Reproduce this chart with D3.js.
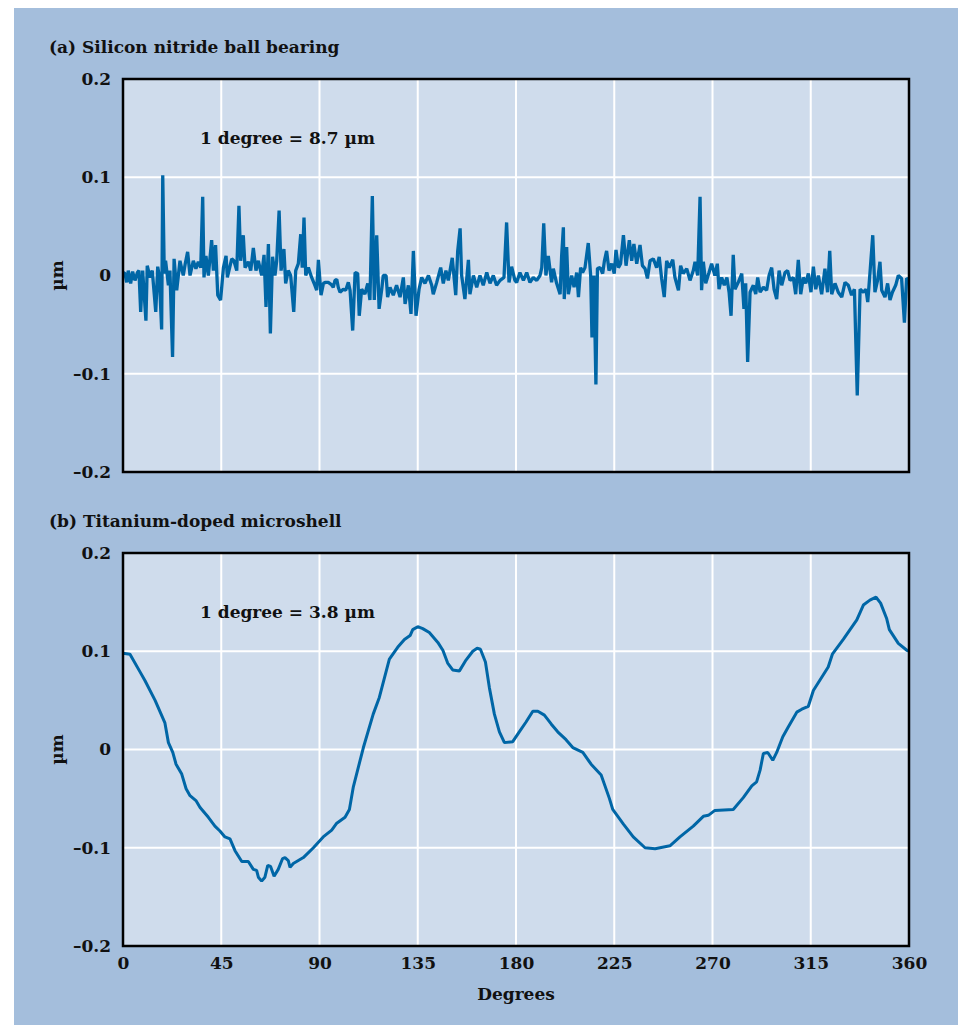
<!DOCTYPE html>
<html>
<head>
<meta charset="utf-8">
<title>Roundness traces</title>
<script src="https://cdn.jsdelivr.net/npm/d3@7"></script>
<style>
  body { margin: 0; background: #ffffff; }
  text { font-family: "DejaVu Serif", serif; font-weight: bold; fill: #111; }
</style>
</head>
<body>
<div id="chart"></div>
<script>
// tick values
var xTicks = [0, 45, 90, 135, 180, 225, 270, 315, 360];
var yTicks = [-0.2, -0.1, 0, 0.1, 0.2];

// (a) silicon nitride ball bearing
var aDeg = [0, 0.9, 1.7, 2.4, 3.5, 4.4, 5.5, 6.6, 7.3, 8.1, 9.0, 10.5, 11.1, 12.4, 13.4, 15.0, 15.9, 16.6, 17.7, 18.2,
  18.9, 19.5, 20.8, 21.5, 22.7, 23.4, 24.6, 26.1, 27.6, 28.5, 29.6, 30.7, 32.2, 33.4, 34.5, 35.6, 36.5, 37.1, 38.0, 39.1,
  40.6, 41.4, 42.4, 43.4, 44.7, 46.0, 47.2, 47.8, 49.8, 50.8, 52.1, 53.1, 53.9, 55.1, 55.9, 57.4, 58.5, 59.7, 60.9, 62.0,
  63.5, 64.6, 65.5, 66.6, 67.5, 68.5, 69.6, 70.4, 71.5, 72.4, 73.7, 74.5, 75.7, 76.8, 78.2, 79.1, 80.3, 81.4, 82.1, 82.9,
  83.7, 84.9, 86.4, 87.9, 88.7, 89.5, 90.7, 91.8, 92.8, 94.0, 95.3, 96.3, 97.1, 97.9, 98.6, 99.4, 100.9, 102.0, 103.2, 104.0,
  105.2, 106.3, 107.5, 108.2, 109.3, 110.8, 112.1, 113.1, 114.2, 115.1, 116.2, 117.3, 118.5, 119.2, 120.5, 121.2, 122.3, 123.8, 125.3, 126.9,
  128.4, 129.2, 130.7, 131.9, 133.0, 134.2, 135.6, 136.8, 138.3, 139.9, 141.4, 142.1, 143.7, 145.5, 146.7, 147.9, 149.0, 150.8, 152.4, 153.3,
  154.4, 155.1, 156.6, 158.2, 158.9, 160.5, 162.0, 163.5, 165.0, 166.6, 168.1, 169.6, 171.1, 172.7, 174.5, 175.7, 176.8, 178.0, 179.5, 180.3,
  181.8, 183.4, 184.9, 186.4, 187.9, 189.5, 191.0, 191.8, 192.7, 193.7, 194.8, 196.3, 197.1, 198.6, 200.2, 200.9, 201.7, 202.1, 203.2, 204.0,
  205.5, 206.6, 207.8, 208.6, 209.6, 210.5, 211.6, 213.1, 214.2, 214.8, 215.7, 216.6, 217.3, 218.5, 219.7, 220.5, 221.5, 222.6, 223.8, 225.0,
  225.8, 226.9, 227.9, 229.2, 230.4, 231.9, 233.0, 234.0, 235.3, 236.8, 237.9, 239.1, 240.2, 241.4, 242.9, 244.4, 245.6, 246.7, 247.9, 249.0,
  250.2, 251.8, 252.8, 254.4, 255.4, 256.6, 258.2, 259.7, 261.2, 262.0, 263.2, 264.3, 265.0, 265.8, 266.9, 268.4, 269.6, 271.1, 272.2, 273.0,
  274.2, 275.4, 276.6, 277.6, 278.5, 279.5, 280.3, 281.8, 283.4, 284.4, 285.2, 286.1, 287.2, 288.7, 289.8, 290.7, 291.8, 293.3, 294.8, 295.9,
  297.1, 298.2, 299.4, 300.5, 301.7, 303.2, 304.4, 305.5, 307.0, 308.1, 309.3, 310.4, 311.6, 312.7, 313.9, 315.1, 316.2, 317.3, 318.5, 320.0,
  321.5, 322.7, 323.7, 324.6, 326.1, 327.6, 329.2, 330.7, 332.2, 333.7, 335.0, 336.3, 337.6, 339.1, 340.3, 341.1, 342.1, 343.4, 344.4, 345.6,
  346.7, 347.5, 349.0, 350.2, 351.3, 352.4, 353.9, 355.1, 356.6, 357.9, 358.9, 360];
var aVal = [0.003, 0.002, -0.007, 0.005, -0.008, 0.004, -0.005, 0.003, 0.005, -0.037, 0.005, -0.046, 0.010, -0.002, 0.005, -0.037, 0.009, 0, -0.055, 0.102,
  0.002, 0.015, -0.010, 0.005, -0.083, 0.017, -0.015, 0.015, 0, 0.012, 0.024, 0, 0.015, 0.007, 0.014, 0.008, 0.080, -0.002, 0.020, 0,
  0.036, 0.005, 0.031, -0.020, -0.025, 0.008, 0.020, -0.002, 0.017, 0.015, 0.005, 0.071, 0.015, 0.041, 0.008, 0.014, 0.005, 0.028, 0.005, 0.015,
  0, 0.021, -0.032, 0.032, -0.059, 0.019, 0, 0.015, 0.066, 0.005, 0.027, -0.008, 0.005, 0, -0.037, 0.005, 0.012, 0.042, 0.008, 0.059,
  0, 0.008, -0.002, -0.010, -0.015, 0.016, -0.020, -0.008, -0.007, -0.007, -0.009, -0.012, -0.005, -0.004, -0.012, -0.017, -0.014, -0.015, -0.007, -0.015,
  -0.056, 0.003, 0.002, -0.041, -0.014, -0.019, -0.008, -0.025, 0.081, -0.025, 0.041, -0.034, -0.014, 0, 0, -0.022, -0.012, -0.020, -0.010, -0.022,
  -0.002, -0.029, -0.010, -0.039, 0.025, -0.041, -0.014, -0.002, -0.008, 0, -0.010, -0.019, -0.007, 0.008, -0.008, 0.005, -0.005, 0.018, -0.020, 0.025,
  0.048, 0, -0.024, 0.016, -0.019, 0, -0.012, 0, -0.010, 0.003, -0.008, 0, -0.010, -0.005, -0.002, 0.054, -0.007, 0.009, -0.005, -0.007,
  0.003, -0.005, 0.003, -0.007, -0.002, -0.005, 0, 0.008, 0.053, 0, 0.020, -0.007, 0.007, -0.008, -0.019, 0.020, 0.049, -0.024, 0.029, -0.019,
  0, -0.012, 0.003, -0.022, 0.008, 0.003, 0.008, 0.033, 0, -0.063, 0, -0.111, 0.007, 0.008, 0.002, 0.015, 0.025, 0.005, 0.012, 0.002,
  0.026, 0.008, 0.012, 0.041, 0.010, 0.036, 0.015, 0.032, 0.012, 0.031, 0.010, 0.007, -0.003, 0.015, 0.017, 0.008, 0.019, -0.003, -0.022, 0.015,
  0.008, 0.016, -0.002, -0.015, 0.010, 0.002, 0.007, -0.005, 0.005, 0.014, 0, 0.080, -0.015, 0.014, -0.008, 0.003, 0.012, 0, 0.012, -0.014,
  -0.002, -0.010, -0.002, -0.017, -0.041, 0.021, -0.014, -0.007, 0.002, -0.034, -0.008, -0.088, -0.017, -0.010, -0.019, -0.002, -0.017, -0.012, -0.015, 0,
  0.008, -0.014, -0.024, 0.005, -0.010, 0.003, 0.005, -0.005, -0.002, -0.019, 0.016, -0.019, -0.002, -0.008, 0.002, -0.017, 0.009, -0.014, 0, -0.019,
  0.007, -0.017, 0.025, -0.019, -0.008, -0.017, -0.022, -0.007, -0.010, -0.020, -0.014, -0.122, -0.014, -0.017, -0.014, -0.027, 0.002, 0.041, -0.017, -0.005,
  0.014, -0.015, -0.022, -0.008, -0.025, -0.017, -0.010, 0, -0.003, -0.048, -0.003, -0.004];

// (b) titanium-doped microshell
var bDeg = [0, 3.2, 7.8, 10.1, 14.7, 19.2, 20.8, 22.8, 24.3, 26.9, 28.9, 30.7, 33.4, 35.3, 39.1, 42.1, 44.4, 46.7, 49.0, 51.3,
  54.4, 57.4, 59.7, 61.2, 62.0, 63.5, 65.0, 66.3, 67.6, 69.2, 71.1, 73.1, 74.2, 75.7, 76.5, 78.0, 82.6, 87.2, 91.7, 95.6,
  97.9, 101.7, 103.7, 105.5, 110.1, 114.6, 117.4, 122.0, 125.8, 128.9, 131.5, 132.7, 135.0, 137.3, 140.3, 144.2, 146.5, 148.7, 151.0, 154.1,
  157.1, 160.2, 162.2, 163.7, 166.0, 167.8, 170.1, 172.4, 174.7, 178.5, 181.5, 184.6, 187.7, 190.0, 193.0, 196.1, 199.1, 202.9, 206.0, 210.6,
  214.4, 219.0, 222.8, 224.3, 229.2, 233.7, 239.1, 243.7, 250.5, 255.1, 261.2, 265.8, 268.1, 271.1, 279.5, 284.1, 288.0, 290.2, 291.8, 293.3,
  295.3, 297.6, 299.4, 302.2, 304.7, 308.6, 310.9, 313.9, 316.2, 323.0, 324.9, 329.9, 336.1, 339.1, 342.1, 344.9, 347.0, 349.8, 351.0, 355.1,
  359.0, 360];
var bVal = [0.098, 0.097, 0.079, 0.070, 0.050, 0.027, 0.007, -0.003, -0.015, -0.025, -0.040, -0.047, -0.052, -0.059, -0.069, -0.078, -0.083, -0.089, -0.091, -0.103,
  -0.114, -0.114, -0.122, -0.123, -0.130, -0.134, -0.130, -0.118, -0.119, -0.129, -0.122, -0.111, -0.110, -0.113, -0.120, -0.116, -0.110, -0.100, -0.089, -0.082,
  -0.075, -0.069, -0.061, -0.038, 0.002, 0.036, 0.053, 0.092, 0.104, 0.112, 0.116, 0.122, 0.125, 0.123, 0.119, 0.109, 0.101, 0.088, 0.081, 0.080,
  0.091, 0.100, 0.103, 0.102, 0.089, 0.063, 0.036, 0.018, 0.007, 0.008, 0.018, 0.028, 0.039, 0.039, 0.035, 0.026, 0.018, 0.010, 0.002, -0.003,
  -0.015, -0.026, -0.050, -0.061, -0.076, -0.089, -0.100, -0.101, -0.098, -0.089, -0.078, -0.068, -0.067, -0.062, -0.061, -0.049, -0.037, -0.033, -0.021, -0.004,
  -0.003, -0.011, -0.003, 0.013, 0.023, 0.038, 0.041, 0.044, 0.060, 0.084, 0.097, 0.112, 0.132, 0.147, 0.152, 0.155, 0.149, 0.133, 0.122, 0.108,
  0.101, 0.100];

var panels = [
  { title: "(a) Silicon nitride ball bearing", note: "1 degree = 8.7 \u00b5m", deg: aDeg, val: aVal, top: 79, xLabels: false, lw: 3.3 },
  { title: "(b) Titanium-doped microshell", note: "1 degree = 3.8 \u00b5m", deg: bDeg, val: bVal, top: 553, xLabels: true, lw: 3 }
];

var width = 959, height = 1025;
var left = 123, right = 909, plotH = 393;
var fontFam = "'DejaVu Serif', serif";

var svg = d3.select("#chart").append("svg")
  .attr("width", width)
  .attr("height", height);

// outer panel background
svg.append("rect")
  .attr("x", 14).attr("y", 8)
  .attr("width", 944).attr("height", 1017)
  .attr("fill", "#a4bedc");

var x = d3.scaleLinear().domain([0, 360]).range([left, right]);

var fmt = function(d) {
  if (d === 0) return "0";
  return d < 0 ? "\u2013" + Math.abs(d) : String(d);
};

panels.forEach(function(p) {
  var y = d3.scaleLinear().domain([-0.2, 0.2]).range([p.top + plotH, p.top]);
  var g = svg.append("g");

  g.append("rect")
    .attr("x", left).attr("y", p.top)
    .attr("width", right - left).attr("height", plotH)
    .attr("fill", "#cfdcec");

  // grid lines
  g.selectAll(".vgrid").data(xTicks.slice(1, -1)).enter()
    .append("line")
    .attr("x1", function(d) { return x(d); })
    .attr("x2", function(d) { return x(d); })
    .attr("y1", p.top).attr("y2", p.top + plotH)
    .attr("stroke", "#ffffff").attr("stroke-width", 2);
  g.selectAll(".hgrid").data(yTicks.slice(1, -1)).enter()
    .append("line")
    .attr("x1", left).attr("x2", right)
    .attr("y1", function(d) { return y(d); })
    .attr("y2", function(d) { return y(d); })
    .attr("stroke", "#ffffff").attr("stroke-width", 2);

  // trace
  var line = d3.line()
    .x(function(d, i) { return x(p.deg[i]); })
    .y(function(d) { return y(d); });
  g.append("path")
    .datum(p.val)
    .attr("d", line)
    .attr("fill", "none")
    .attr("stroke", "#0066a6")
    .attr("stroke-width", p.lw)
    .attr("stroke-linejoin", "bevel");

  // frame
  g.append("rect")
    .attr("x", left).attr("y", p.top)
    .attr("width", right - left).attr("height", plotH)
    .attr("fill", "none")
    .attr("stroke", "#000").attr("stroke-width", 2.5);

  // y axis labels
  var ya = g.append("g")
    .attr("transform", "translate(" + left + ",0)")
    .call(d3.axisLeft(y).tickValues(yTicks).tickSize(0).tickPadding(12).tickFormat(fmt));
  ya.select(".domain").remove();
  ya.selectAll("text")
    .style("font-family", fontFam)
    .style("font-weight", "bold")
    .style("font-size", "17px")
    .attr("fill", "#111");

  if (p.xLabels) {
    var xa = g.append("g")
      .attr("transform", "translate(0," + (p.top + plotH) + ")")
      .call(d3.axisBottom(x).tickValues(xTicks).tickSize(0).tickPadding(11));
    xa.select(".domain").remove();
    xa.selectAll("text")
      .style("font-family", fontFam)
      .style("font-weight", "bold")
      .style("font-size", "17px")
      .attr("fill", "#111");
  }

  g.append("text")
    .attr("x", 49).attr("y", p.top - 26)
    .style("font-size", "17px")
    .text(p.title);

  g.append("text")
    .attr("x", 200).attr("y", p.top + 65)
    .style("font-size", "17px")
    .text(p.note);

  g.append("text")
    .attr("transform", "translate(63," + (p.top + plotH / 2) + ") rotate(-90)")
    .attr("text-anchor", "middle")
    .style("font-size", "17px")
    .text("\u00b5m");
});

svg.append("text")
  .attr("x", (left + right) / 2).attr("y", 1000)
  .attr("text-anchor", "middle")
  .style("font-size", "17px")
  .text("Degrees");
</script>
</body>
</html>
